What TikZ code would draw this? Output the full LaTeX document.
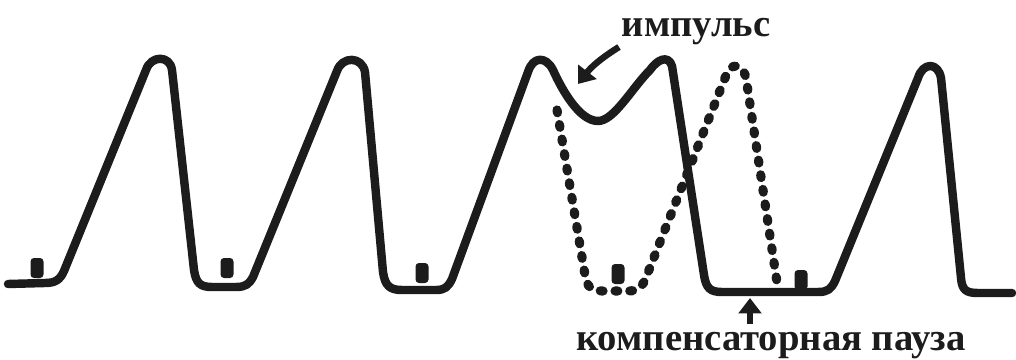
\documentclass[tikz,border=0pt]{standalone}
\usepackage{fontspec}
\setmainfont{Liberation Serif}
\usetikzlibrary{arrows.meta}
\definecolor{ink}{HTML}{1C1C1C}

\begin{document}
\begin{tikzpicture}[x=0.25mm,y=-0.25mm,font=\fontsize{27.5}{32}\selectfont\bfseries]
      \tikzset{trace/.style={draw=ink,line width=6pt,line join=round,line cap=round},
        dots/.style={trace,line width=6.5pt,dash pattern=on 2pt off 8.5pt},
        pointer/.style={draw=ink,line width=4.6pt,-{Triangle[length=11pt,width=16pt]}}}
      \useasboundingbox (0,0) rectangle (1016,360);
      % solid rhythm
      \draw[trace] (8,284) -- (45,283) .. controls (55,283) and (60,280) .. (64,271)
        -- (146,70) .. controls (151,55) and (170,55) .. (172,70)
        -- (194,270) .. controls (196,283) and (200,287) .. (212,287)
        -- (236,287) .. controls (246,287) and (249,284) .. (253,277)
        -- (337,71) .. controls (342,56) and (362,56) .. (365,72)
        -- (383,272) .. controls (385,286) and (390,290) .. (402,290)
        -- (436,290) .. controls (445,290) and (448,287) .. (452,279)
        -- (528,72) .. controls (533,56) and (546,56) .. (553,70)
        .. controls (563,92) and (580,121) .. (598,121)
        .. controls (614,121) and (632,88) .. (650,70)
        .. controls (657,60) and (668,54) .. (672,66)
        -- (704,275) .. controls (706,288) and (710,292) .. (722,292)
        -- (818,292) .. controls (828,292) and (831,289) .. (835,281)
        -- (918,78) .. controls (923,62) and (938,62) .. (941,78)
        -- (961,278) .. controls (962,290) and (966,293) .. (978,293) -- (1012,293);
      % expected beat without the extra impulse
      \draw[dots] (557,110) -- (585,275) .. controls (587,287) and (591,291) .. (603,291)
        -- (628,291) .. controls (637,291) and (641,288) .. (645,280)
        -- (725,78) .. controls (730,62) and (742,62) .. (746,78) -- (778,289);
      % small markers
      \foreach \mx/\my in {37/268,227/268,422/273,618/274,801/280}{
        \fill[ink,rounded corners=2.5pt] (\mx-6.5,\my-10) rectangle ++(13,20);}
      \node[anchor=base,text=ink] (imp) at (696,37) {импульс};
      \node[anchor=base,text=ink] (komp) at (771,350) {компенсаторная пауза};
      \coordinate (impTail) at (619,47);
      \coordinate (impTip) at (578,84);
      \coordinate (kompTail) at (750,324);
      \coordinate (kompTip) at (750,298);
      \draw[pointer] (impTail) to[bend right=10] (impTip);
      \draw[pointer] (kompTail) -- (kompTip);
    \end{tikzpicture}
\end{document}
